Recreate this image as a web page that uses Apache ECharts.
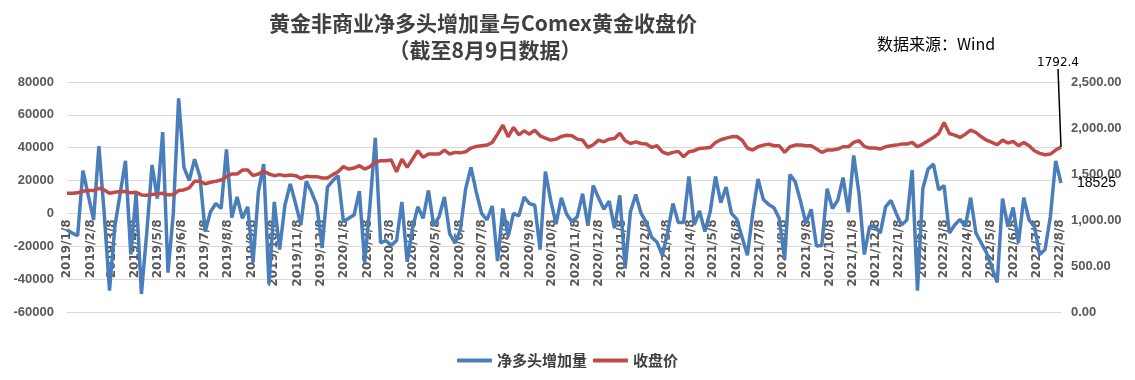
<!DOCTYPE html>
<html><head><meta charset="utf-8">
<script src="https://cdn.jsdelivr.net/npm/echarts@6/dist/echarts.min.js"></script>
<style>html,body{margin:0;padding:0;background:#fff}#c{width:1135px;height:380px}</style>
</head><body><div id="c"></div>
<script>
// Weekly data (Tuesdays) from 2019/1/8 to 2022/8/9
const startDate = [2019, 1, 8];
const endDate = [2022, 8, 9];
const seriesNames = ['净多头增加量', '收盘价'];
const leftTicks = { min: -60000, max: 80000, interval: 20000 };
const rightTicks = { min: 0, max: 2500, interval: 500 };

const netLongChange = [
 -10000,-12000,-13500,26000,11000,-4000,41000,0,-47000,-8000,
 12000,32000,-25000,12000,-49000,-12000,29500,9000,49500,-36000,
 0,70000,28000,20000,33000,22500,-11000,1000,6000,3000,
 39000,-2500,10000,-3000,4000,-30000,13000,30000,-43000,7000,
 -22000,5000,18000,6000,-7000,19500,13000,5000,-21000,16000,
 20000,23000,-5000,-3000,-1000,13500,-30000,5000,46000,-18000,
 -16500,-19500,-16500,7000,-29500,-9000,4000,-3000,14000,-7500,
 -2000,10000,-12500,-18000,-10000,15000,28000,13000,0,-4000,
 4500,-29000,3000,-14000,0,-1500,10000,6000,5000,-22000,
 25500,8000,-6500,9500,-500,-5000,-2000,12000,-7500,17000,
 9500,2500,7500,-9000,11000,-33500,1000,11500,0,-5500,
 -14500,-17500,-25500,-11500,6000,-5500,-5500,22500,-7000,1500,
 -11000,1000,22500,6500,16000,0,-3500,-14500,-25500,0,
 21000,8500,5500,3500,-3000,-28000,23600,19300,7500,-6000,
 2500,-19800,-19500,15000,3000,8000,21800,700,35300,12000,
 -25000,-7800,-8000,-12000,4000,8000,0,-7000,-4000,26400,
 -47000,15000,27000,30000,14400,17000,-12000,-7000,-3600,-8000,
 9600,-12000,-18000,-24000,-33000,-42000,9000,-8000,3600,-18000,
 9600,-4000,-8000,-25000,-22000,-2000,32000,18525
];
const closePrice = [
 1291,1291,1295,1313,1320,1320,1345,1327,1291,1302,
 1309,1309,1295,1302,1273,1270,1277,1284,1291,1273,
 1277,1320,1327,1349,1421,1421,1392,1410,1421,1435,
 1471,1500,1500,1543,1543,1482,1500,1532,1500,1482,
 1493,1482,1489,1482,1453,1475,1471,1471,1457,1457,
 1493,1525,1580,1554,1565,1590,1554,1580,1627,1645,
 1645,1652,1525,1662,1572,1662,1753,1681,1717,1717,
 1717,1760,1717,1735,1730,1742,1782,1800,1807,1814,
 1843,1933,2031,1904,2006,1926,1969,1933,1976,1915,
 1890,1868,1879,1908,1922,1915,1879,1868,1789,1818,
 1868,1850,1879,1886,1944,1861,1832,1850,1832,1825,
 1789,1807,1740,1717,1735,1746,1688,1742,1753,1778,
 1782,1789,1843,1872,1890,1904,1908,1868,1782,1760,
 1796,1814,1825,1807,1807,1735,1796,1814,1814,1807,
 1807,1771,1735,1760,1760,1771,1796,1796,1843,1861,
 1800,1782,1782,1771,1796,1807,1814,1825,1825,1843,
 1796,1825,1861,1897,1940,2059,1940,1922,1897,1933,
 1976,1951,1904,1868,1843,1818,1868,1836,1854,1807,
 1843,1807,1753,1724,1709,1717,1760,1792.4
];

// daily category axis
const days = [];
const dayNum = [];
{
  let t = Date.UTC(startDate[0], startDate[1]-1, startDate[2]);
  const end = Date.UTC(endDate[0], endDate[1]-1, endDate[2]);
  while (t <= end) {
    const d = new Date(t);
    days.push(d.getUTCFullYear() + '/' + (d.getUTCMonth()+1) + '/' + d.getUTCDate());
    dayNum.push(d.getUTCDate());
    t += 86400000;
  }
}
const lastIdx = netLongChange.length - 1;
function mk(vals, withLabel) {
  return vals.map((v, i) => {
    const item = { value: [i * 7, v] };
    if (i === lastIdx) { item.label = withLabel; item.symbol = 'circle'; item.symbolSize = 0.1; }
    return item;
  });
}

const G = { left: 67, right: 74, top: 82, bottom: 68 };
const plotH = 380 - G.top - G.bottom;
const zeroY = G.top + plotH * (leftTicks.max / (leftTicks.max - leftTicks.min));

const axisFont = { color: '#595959', fontWeight: 'bold', fontSize: 13, fontFamily: 'Liberation Sans, Arial, sans-serif' };
const chart = echarts.init(document.getElementById('c'));
chart.setOption({
  animation: false,
  backgroundColor: '#fff',
  title: [
    { text: '黄金非商业净多头增加量与Comex黄金收盘价', left: 478, top: 8, textAlign: 'center',
      textStyle: { fontSize: 21, fontWeight: 'bold', color: '#404040', fontFamily: 'Noto Sans CJK SC' } },
    { text: '（截至8月9日数据）', left: 480, top: 35, textAlign: 'center',
      textStyle: { fontSize: 21, fontWeight: 'bold', color: '#404040', fontFamily: 'Noto Sans CJK SC' } },
    { text: '数据来源：Wind', left: 872, top: 31,
      textStyle: { fontSize: 16, fontWeight: 'normal', color: '#000', fontFamily: 'Noto Sans CJK SC' } }
  ],
  legend: {
    data: seriesNames, left: 'center', top: 348, icon: 'roundRect', itemWidth: 35, itemHeight: 4, itemGap: 6,
    textStyle: { fontSize: 15, fontWeight: 'bold', color: '#404040', fontFamily: 'Noto Sans CJK SC' }
  },
  grid: [
    { left: G.left, right: G.right, top: G.top, bottom: G.bottom },
    { left: G.left, right: G.right, top: G.top, bottom: 380 - zeroY }
  ],
  xAxis: [
    { type: 'category', data: days, boundaryGap: false, gridIndex: 0,
      axisLine: { show: false }, axisTick: { show: false }, axisLabel: { show: false }, splitLine: { show: false } },
    { type: 'category', data: days, boundaryGap: false, gridIndex: 1,
      axisLine: { show: false }, axisTick: { show: false }, splitLine: { show: false },
      axisLabel: {
        rotate: 90, margin: 6, interval: (idx) => dayNum[idx] === 8,
        color: '#595959', fontWeight: 'bold', fontSize: 12, fontFamily: 'DejaVu Sans'
      } }
  ],
  yAxis: [
    { type: 'value', gridIndex: 0, min: leftTicks.min, max: leftTicks.max, interval: leftTicks.interval,
      axisLine: { show: false }, axisTick: { show: false },
      axisLabel: Object.assign({ margin: 13, formatter: v => String(v) }, axisFont),
      splitLine: { lineStyle: { color: '#D9D9D9', width: 1 } } },
    { type: 'value', gridIndex: 0, min: rightTicks.min, max: rightTicks.max, interval: rightTicks.interval,
      axisLine: { show: false }, axisTick: { show: false },
      axisLabel: Object.assign({ margin: 10,
        formatter: v => v.toLocaleString('en-US', { minimumFractionDigits: 2, maximumFractionDigits: 2 }) }, axisFont),
      splitLine: { show: false } },
    { type: 'value', gridIndex: 1, show: false, splitLine: { show: false } }
  ],
  series: [
    { name: seriesNames[0], type: 'line', xAxisIndex: 0, yAxisIndex: 0, showSymbol: true, showAllSymbol: true, symbol: 'none',
      lineStyle: { color: '#4A7EBB', width: 3.5 }, itemStyle: { color: '#4A7EBB' },
      data: mk(netLongChange, { show: true, position: 'right', distance: 16, color: '#000', fontSize: 14,
        fontFamily: 'Liberation Sans', formatter: p => String(p.value[1]) }) },
    { name: seriesNames[1], type: 'line', xAxisIndex: 0, yAxisIndex: 1, showSymbol: true, showAllSymbol: true, symbol: 'none',
      lineStyle: { color: '#BE4B48', width: 3.5 }, itemStyle: { color: '#BE4B48' },
      labelLayout: { dx: -3, dy: -73 },
      labelLine: { show: true, lineStyle: { color: '#000', width: 1.5 } },
      data: mk(closePrice, { show: true, position: 'top', distance: 5, color: '#000', fontSize: 12,
        fontFamily: 'DejaVu Sans', formatter: p => String(p.value[1]) }) }
  ]
});
</script></body></html>
